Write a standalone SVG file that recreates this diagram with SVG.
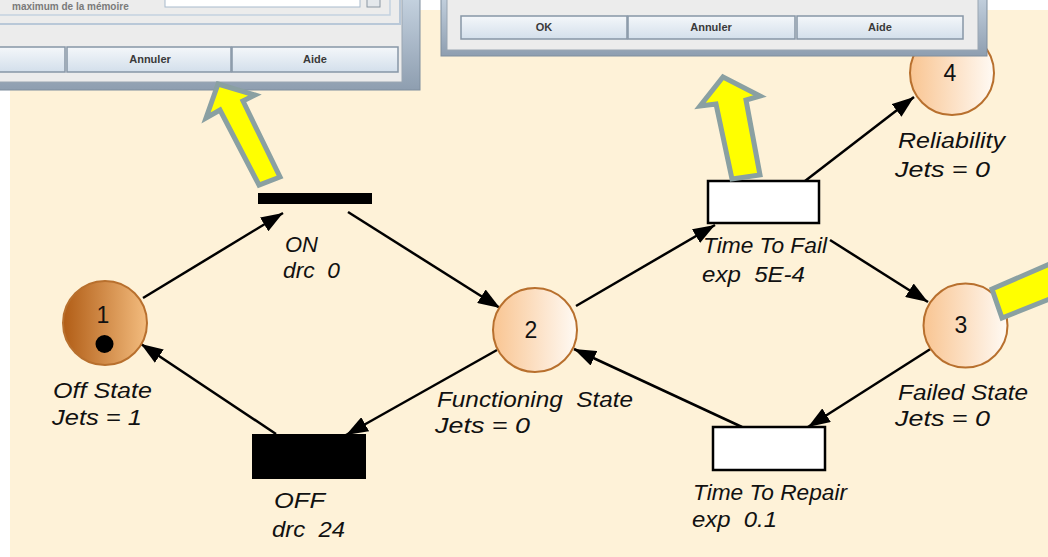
<svg xmlns="http://www.w3.org/2000/svg" width="1048" height="557" viewBox="0 0 1048 557">
<defs>
<linearGradient id="gDark" x1="0" y1="0" x2="1" y2="0"><stop offset="0" stop-color="#B15D16"/><stop offset="1" stop-color="#F3BC7E"/></linearGradient>
<linearGradient id="gLight" x1="0" y1="0" x2="1" y2="0"><stop offset="0" stop-color="#F9C592"/><stop offset="1" stop-color="#FFFAF4"/></linearGradient>
<linearGradient id="gBtn" x1="0" y1="0" x2="0" y2="1"><stop offset="0" stop-color="#F4F7FA"/><stop offset="1" stop-color="#D3DFEB"/></linearGradient>
<linearGradient id="gFrame" x1="0" y1="0" x2="0" y2="1"><stop offset="0" stop-color="#C9D6E3"/><stop offset="1" stop-color="#8E9EB0"/></linearGradient>
<marker id="ah" viewBox="0 0 10 10" refX="10" refY="5" markerWidth="22" markerHeight="16" markerUnits="userSpaceOnUse" orient="auto" preserveAspectRatio="none"><path d="M0,0 L10,5 L0,10 z" fill="#000"/></marker>
</defs>
<style>
.lbl{font-family:"Liberation Sans",Arial,sans-serif;font-style:italic;font-size:22px;fill:#111;white-space:pre}
.num{font-family:"Liberation Sans",Arial,sans-serif;font-size:23px;fill:#111;text-anchor:middle}
.pl{stroke:#B8702E;stroke-width:2}
.arc{stroke:#000;stroke-width:2.5;fill:none;marker-end:url(#ah)}
.btn{fill:url(#gBtn);stroke:#8796A6;stroke-width:1.5}
.btxt{font-family:"Liberation Sans",Arial,sans-serif;font-weight:bold;font-size:11px;fill:#3A3A3A;text-anchor:middle}
.ya{fill:#FFFF00;stroke:#8AA0A2;stroke-width:5;stroke-linejoin:miter}
</style>
<rect width="1048" height="557" fill="#FFFFFF"/>
<rect x="10" y="10" width="1038" height="547" fill="#FEF2D8"/>

<g id="connectors">
<line class="arc" x1="143" y1="298" x2="283" y2="213"/>
<line class="arc" x1="348" y1="212" x2="500" y2="308"/>
<line class="arc" x1="576" y1="306" x2="715" y2="225"/>
<line class="arc" x1="805" y1="181" x2="914" y2="97"/>
<line class="arc" x1="830" y1="240" x2="928" y2="302"/>
<line class="arc" x1="932" y1="348" x2="808" y2="427"/>
<line class="arc" x1="742" y1="427" x2="574" y2="349"/>
<line class="arc" x1="497" y1="350" x2="346" y2="435"/>
<line class="arc" x1="276" y1="434" x2="141" y2="344"/>
</g>

<g id="place-1">
<circle class="pl" cx="105" cy="323" r="42" fill="url(#gDark)"/>
<text class="num" x="103" y="323">1</text>
<circle cx="104.5" cy="344" r="9" fill="#000"/>
<text class="lbl" x="53" y="398" textLength="99" lengthAdjust="spacingAndGlyphs">Off State</text>
<text class="lbl" x="52" y="425" textLength="90" lengthAdjust="spacingAndGlyphs">Jets = 1</text>
</g>

<g id="place-2">
<circle class="pl" cx="535" cy="330" r="42" fill="url(#gLight)"/>
<text class="num" x="531" y="338">2</text>
<text class="lbl" x="437" y="407" textLength="196" lengthAdjust="spacingAndGlyphs">Functioning  State</text>
<text class="lbl" x="435" y="433" textLength="95" lengthAdjust="spacingAndGlyphs">Jets = 0</text>
</g>

<g id="place-3">
<circle class="pl" cx="965.5" cy="325.5" r="42" fill="url(#gLight)"/>
<text class="num" x="961" y="333">3</text>
<text class="lbl" x="898" y="400" textLength="130" lengthAdjust="spacingAndGlyphs">Failed State</text>
<text class="lbl" x="895" y="426" textLength="95" lengthAdjust="spacingAndGlyphs">Jets = 0</text>
</g>

<g id="place-4">
<circle class="pl" cx="952" cy="73" r="42" fill="url(#gLight)"/>
<text class="num" x="950" y="81">4</text>
<text class="lbl" x="898" y="148" textLength="107" lengthAdjust="spacingAndGlyphs">Reliability</text>
<text class="lbl" x="895" y="177" textLength="95" lengthAdjust="spacingAndGlyphs">Jets = 0</text>
</g>

<g id="transition-on">
<rect x="258" y="193" width="114" height="11" fill="#000"/>
<text class="lbl" x="285" y="252">ON</text>
<text class="lbl" x="283" y="278" textLength="57" lengthAdjust="spacingAndGlyphs">drc  0</text>
</g>

<g id="transition-off">
<rect x="252" y="434" width="114" height="45" fill="#000"/>
<text class="lbl" x="274" y="508" textLength="51" lengthAdjust="spacingAndGlyphs">OFF</text>
<text class="lbl" x="272" y="537" textLength="73" lengthAdjust="spacingAndGlyphs">drc  24</text>
</g>

<g id="transition-ttf">
<rect x="708" y="181" width="111" height="42" fill="#FFFFFF" stroke="#000" stroke-width="2.5"/>
<text class="lbl" x="703" y="253" textLength="124" lengthAdjust="spacingAndGlyphs">Time To Fail</text>
<text class="lbl" x="702" y="282" textLength="103" lengthAdjust="spacingAndGlyphs">exp  5E-4</text>
</g>

<g id="transition-ttr">
<rect x="713" y="427" width="112" height="43" fill="#FFFFFF" stroke="#000" stroke-width="2.5"/>
<text class="lbl" x="693" y="500" textLength="154" lengthAdjust="spacingAndGlyphs">Time To Repair</text>
<text class="lbl" x="692" y="527" textLength="85" lengthAdjust="spacingAndGlyphs">exp  0.1</text>
</g>

<g id="dialog-left">
<rect x="-10" y="-10" width="430" height="100" fill="url(#gFrame)" stroke="#7F8E9E" stroke-width="1"/>
<rect x="-10" y="-10" width="412" height="92" fill="#ECECEC" stroke="#9AA6B2" stroke-width="1"/>
<rect x="-10" y="-10" width="410" height="34" fill="none" stroke="#B9C8D8" stroke-width="2"/>
<rect x="-10" y="-10" width="400" height="25" fill="none" stroke="#C4D2E0" stroke-width="1.5"/>
<text x="12" y="10" style="font-family:'Liberation Sans',Arial,sans-serif;font-weight:bold;font-size:10px;fill:#7A7A7A">maximum de la mémoire</text>
<rect x="165" y="-6" width="195" height="13" fill="#FFFFFF" stroke="#A8BACC" stroke-width="1"/>
<rect x="367" y="-6" width="13" height="13" fill="#E4E8EC" stroke="#8A96A2" stroke-width="1"/>
<rect class="btn" x="-10" y="47" width="75" height="25"/>
<rect class="btn" x="67" y="47" width="164" height="25"/>
<rect class="btn" x="232" y="47" width="166" height="25"/>
<text class="btxt" x="150" y="63">Annuler</text>
<text class="btxt" x="315" y="63">Aide</text>
</g>

<g id="dialog-right">
<rect x="441" y="-10" width="546" height="66" fill="url(#gFrame)" stroke="#7F8E9E" stroke-width="1"/>
<rect x="447" y="-10" width="531" height="60" fill="#ECECEC" stroke="#9AA6B2" stroke-width="1"/>
<rect class="btn" x="461" y="16" width="166" height="23"/>
<rect class="btn" x="628" y="16" width="167" height="23"/>
<rect class="btn" x="797" y="16" width="166" height="23"/>
<text class="btxt" x="544" y="31">OK</text>
<text class="btxt" x="711" y="31">Annuler</text>
<text class="btxt" x="880" y="31">Aide</text>
</g>

<g id="callout-arrows">
<polygon class="ya" points="218,84 255,95 243,101 280,177 259,185 220,110 206,118"/>
<polygon class="ya" points="723,77 760,96 746,100 760,175 732,179 716,104 700,106"/>
<polygon class="ya" points="992,289 1052,263 1052,298 1002,318"/>
</g>
</svg>
